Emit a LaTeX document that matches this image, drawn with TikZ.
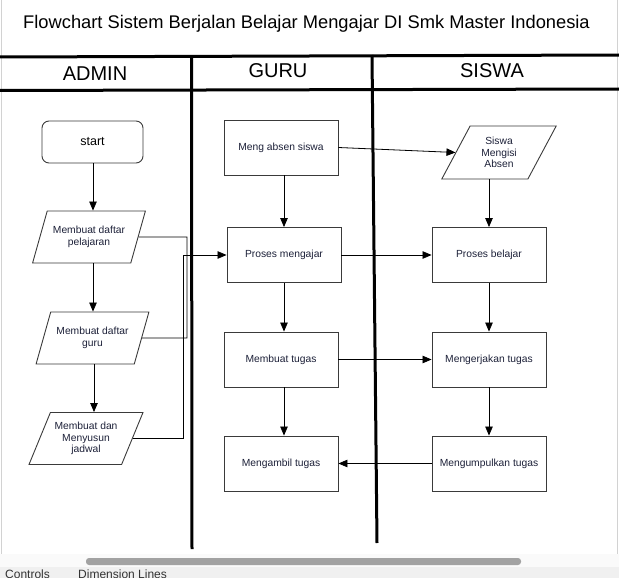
\documentclass[tikz,border=0pt]{standalone}
\usepackage{fontspec}
\setmainfont{Liberation Sans}
\usepackage{xcolor}
\usetikzlibrary{positioning,arrows.meta,shapes.geometric}

\definecolor{boxtext}{HTML}{1C2038}
\definecolor{boxline}{HTML}{3A3A3A}
\definecolor{frameline}{HTML}{D2D2D2}
\definecolor{panelbg}{HTML}{F0F0F0}
\definecolor{panelhi}{HTML}{FAFAFA}
\definecolor{scrollbar}{HTML}{A2A2A2}

\begin{document}
\begin{tikzpicture}[x=1pt,y=-1pt,
 process/.style={rectangle,draw=boxline,line width=0.9pt,minimum width=114pt,minimum height=55pt,
   inner sep=2pt,font=\fontsize{10.3}{12}\selectfont,text=boxtext,align=center},
 terminal/.style={rectangle,rounded corners=7pt,draw=boxline,line width=0.9pt,minimum width=101pt,
   minimum height=42pt,font=\fontsize{12.5}{14}\selectfont},
 datain/.style={trapezium,trapezium left angle=61,trapezium right angle=119,trapezium stretches=true,
   draw=boxline,line width=0.9pt,minimum width=114pt,minimum height=52pt,inner sep=1pt,
   font=\fontsize{10.3}{11.8}\selectfont,text=boxtext,align=center},
 flow/.style={-{Triangle[length=9pt,width=7.5pt]},line width=0.8pt},
 link/.style={line width=0.8pt},
 lane/.style={line width=3pt},
 head/.style={font=\fontsize{20}{22}\selectfont}
]
\useasboundingbox (0,0) rectangle (619,578);

% window frame and bottom panel
\draw[frameline,line width=1pt] (1,0) -- (1,554);
\draw[frameline,line width=1pt] (617,0) -- (617,554);
\fill[panelhi] (0,554) rectangle (619,567);
\fill[panelbg] (0,567) rectangle (619,578);
\fill[scrollbar,rounded corners=3pt] (86,558) rectangle (521,565);
\begin{scope}
\clip (0,567) rectangle (619,578);
\node[anchor=north west,inner sep=0pt,font=\fontsize{12}{14}\selectfont,text=black!80] (ctl) at (5,570) {Controls};
\node[anchor=north west,inner sep=0pt,font=\fontsize{12}{14}\selectfont,text=black!80] (dim) at (78,570) {Dimension Lines};
\end{scope}

% title and swimlanes
\node[font=\fontsize{18.3}{21}\selectfont] (title) at (306.5,24) {Flowchart Sistem Berjalan Belajar Mengajar DI Smk Master Indonesia};
\draw[lane] (0,57) -- (619,55);
\draw[lane] (0,90.5) -- (619,89);
\draw[lane] (191.5,56) -- (192,549);
\draw[lane] (372,55) -- (377,543);
\node[head] (hadmin) at (95,74) {ADMIN};
\node[head] (hguru) at (278,71) {GURU};
\node[head] (hsiswa) at (492,71) {SISWA};

% admin
\node[terminal] (start) at (92.5,142) {start};
\node[datain] (p1) at (89,237) {Membuat daftar\\pelajaran};
\node[datain] (p2) at (92.5,338) {Membuat daftar\\guru};
\node[datain] (p3) at (86,438.5) {Membuat dan\\Menyusun\\jadwal};

% guru
\node[process] (ma) at (281,147.5) {Meng absen siswa};
\node[process] (pm) at (284,255) {Proses mengajar};
\node[process] (mt) at (281,359.5) {Membuat tugas};
\node[process] (mg) at (281,463.5) {Mengambil tugas};

% siswa
\node[datain,minimum width=115pt,minimum height=53pt] (sa) at (499,152.5) {Siswa\\Mengisi\\Absen};
\node[process] (pb) at (489,255) {Proses belajar};
\node[process] (mk) at (489,359.5) {Mengerjakan tugas};
\node[process] (mu) at (489,463.5) {Mengumpulkan tugas};

\coordinate (br) at (187,237);
\coordinate (jn) at (183,255);

\draw[flow] (start.south -| 93,0) -- (p1.north -| 93,0);
\draw[flow] (p1.south -| 93,0) -- (p2.north -| 93,0);
\draw[flow] (p2.south -| 94,0) -- (p3.north -| 94,0);
\draw[link] (p1.east) -- (br) |- (p2.east);
\draw[flow] (p3.east) -| (jn) -- (pm.west);

\draw[flow] (pm.north |- ma.south) -- (pm.north);
\draw[flow] (pm.south) -- (pm.south |- mt.north);
\draw[flow] (mt.south -| pm.south) -- (mg.north -| pm.south);
\draw[flow] (ma.east) -- (sa.west);
\draw[flow] (pm.east) -- (pb.west);
\draw[flow] (mt.east) -- (mk.west);

\draw[flow] (pb.north |- sa.south) -- (pb.north);
\draw[flow] (pb) -- (mk);
\draw[flow] (mk) -- (mu);
\draw[flow] (mu.west) -- (mg.east);
\end{tikzpicture}
\end{document}
